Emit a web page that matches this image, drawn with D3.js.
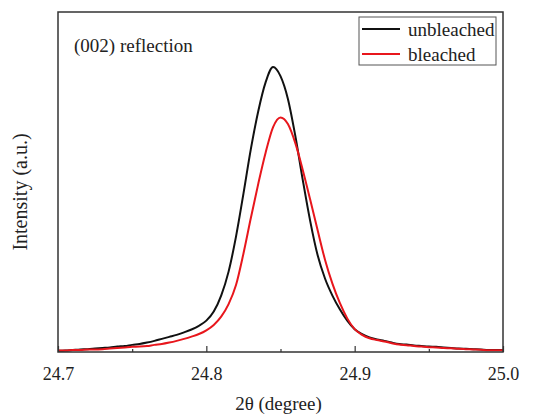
<!DOCTYPE html>
<html>
<head>
<meta charset="utf-8">
<script src="https://cdn.jsdelivr.net/npm/d3@7"></script>
<style>
  body { margin: 0; background: #fff; }
  text { font-family: "Liberation Serif", "Times New Roman", serif; fill: #222; }
</style>
</head>
<body>
<script>
// 2theta positions (degree), sampled every 0.005
const twoTheta = d3.range(61).map(i => +(24.7 + i * 0.005).toFixed(3));

// intensities (normalized, unbleached peak = 1)
const unbleached = [
  0.004, 0.005, 0.007, 0.009, 0.010, 0.012, 0.014, 0.016, 0.019, 0.021,
  0.025, 0.028, 0.033, 0.039, 0.046, 0.053, 0.060, 0.069, 0.079, 0.092,
  0.110, 0.142, 0.198, 0.282, 0.405, 0.555, 0.712, 0.845, 0.947, 1.000,
  0.968, 0.888, 0.758, 0.604, 0.460, 0.340, 0.258, 0.198, 0.150, 0.110,
  0.080, 0.063, 0.051, 0.044, 0.039, 0.033, 0.028, 0.026, 0.023, 0.021,
  0.019, 0.018, 0.016, 0.014, 0.012, 0.011, 0.010, 0.009, 0.007, 0.007,
  0.007
];
const bleached = [
  0.005, 0.005, 0.007, 0.007, 0.009, 0.009, 0.010, 0.012, 0.014, 0.016,
  0.018, 0.019, 0.021, 0.025, 0.028, 0.033, 0.039, 0.046, 0.054, 0.063,
  0.076, 0.095, 0.124, 0.168, 0.235, 0.345, 0.470, 0.590, 0.700, 0.789,
  0.823, 0.800, 0.733, 0.639, 0.535, 0.428, 0.324, 0.240, 0.172, 0.118,
  0.080, 0.060, 0.048, 0.042, 0.037, 0.031, 0.026, 0.024, 0.021, 0.019,
  0.017, 0.016, 0.014, 0.013, 0.011, 0.010, 0.009, 0.008, 0.006, 0.006,
  0.006
];

const majorTicks = [24.7, 24.8, 24.9, 25.0];
const minorTicks = [24.75, 24.85, 24.95];

const series = [
  { name: 'unbleached', values: unbleached, color: '#111' },
  { name: 'bleached', values: bleached, color: '#e8161c' }
];

const width = 545, height = 417;
const margin = { top: 12, right: 42, bottom: 65, left: 58 };
const w = width - margin.left - margin.right,
    h = height - margin.top - margin.bottom;

const svg = d3.select('body').append('svg')
    .attr('width', width)
    .attr('height', height);

const g = svg.append('g')
    .attr('transform', `translate(${margin.left},${margin.top})`);

const x = d3.scaleLinear().domain([24.7, 25.0]).range([0, w]);
const y = d3.scaleLinear().domain([0, 1.193]).range([h, 0]);

const line = d3.line()
    .x((d, i) => x(twoTheta[i]))
    .y(d => y(d))
    .curve(d3.curveMonotoneX);

g.selectAll('.series')
    .data(series)
    .enter().append('path')
    .attr('class', 'series')
    .attr('fill', 'none')
    .attr('stroke', d => d.color)
    .attr('stroke-width', 2)
    .attr('stroke-linejoin', 'round')
    .attr('d', d => line(d.values));

// bottom axis, ticks pointing inward
const xAxis = g.append('g')
    .attr('transform', `translate(0,${h})`)
    .call(d3.axisBottom(x).tickValues(majorTicks)
        .tickFormat(d3.format('.1f'))
        .tickSizeInner(-6).tickSizeOuter(0).tickPadding(15));
xAxis.select('.domain').remove();
xAxis.selectAll('line').attr('stroke', '#333').attr('stroke-width', 1.2);
xAxis.selectAll('text')
    .attr('font-size', 18)
    .attr('fill', '#333');

const xMinor = g.append('g')
    .attr('transform', `translate(0,${h})`)
    .call(d3.axisBottom(x).tickValues(minorTicks)
        .tickFormat('').tickSizeInner(-3).tickSizeOuter(0));
xMinor.select('.domain').remove();
xMinor.selectAll('line').attr('stroke', '#333').attr('stroke-width', 1.2);

// frame
g.append('rect')
    .attr('width', w)
    .attr('height', h)
    .attr('fill', 'none')
    .attr('stroke', '#333')
    .attr('stroke-width', 1.5);

// axis titles
svg.append('text')
    .attr('x', margin.left + w / 2 - 2)
    .attr('y', 410)
    .attr('text-anchor', 'middle')
    .attr('font-size', 19)
    .text('2θ (degree)');

svg.append('text')
    .attr('transform', `translate(27,${margin.top + 180}) rotate(-90)`)
    .attr('text-anchor', 'middle')
    .attr('font-size', 20)
    .text('Intensity (a.u.)');

svg.append('text')
    .attr('x', 74)
    .attr('y', 52)
    .attr('font-size', 19)
    .text('(002) reflection');

// legend
const legend = svg.append('g').attr('transform', 'translate(359,17)');
legend.append('rect')
    .attr('width', 137)
    .attr('height', 48)
    .attr('fill', '#fff')
    .attr('stroke', '#555')
    .attr('stroke-width', 1);

const item = legend.selectAll('.item')
    .data(series)
    .enter().append('g')
    .attr('class', 'item')
    .attr('transform', (d, i) => `translate(0,${12 + i * 25})`);
item.append('line')
    .attr('x1', 3).attr('x2', 41)
    .attr('stroke', d => d.color)
    .attr('stroke-width', 2);
item.append('text')
    .attr('x', 49)
    .attr('y', 7)
    .attr('font-size', 19)
    .text(d => d.name);
</script>
</body>
</html>
